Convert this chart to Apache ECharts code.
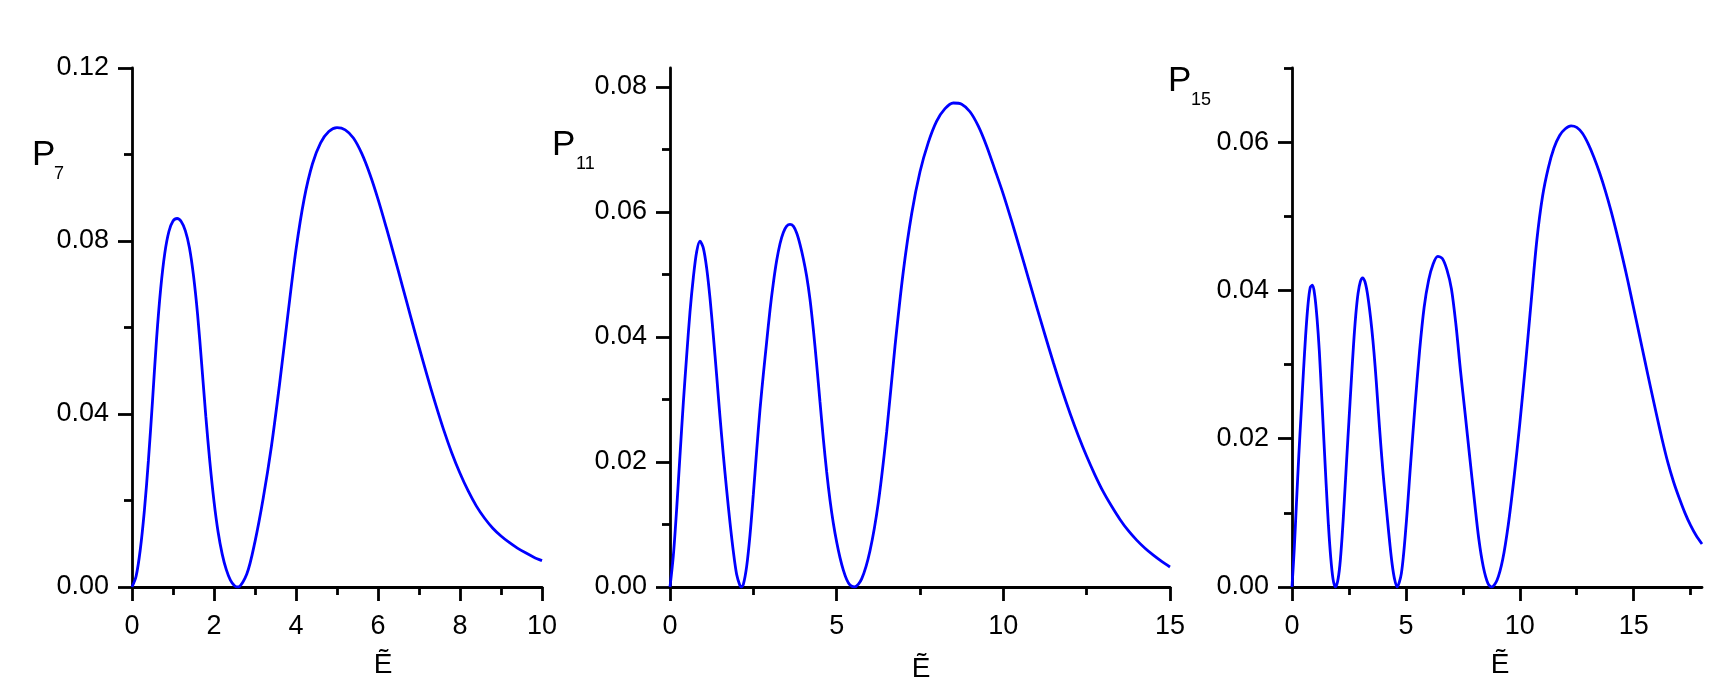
<!DOCTYPE html>
<html>
<head>
<meta charset="utf-8">
<script src="https://cdn.jsdelivr.net/npm/echarts@6/dist/echarts.min.js"></script>
<style>
html,body{margin:0;padding:0;background:#fff;}
#chart{width:1726px;height:691px;}
</style>
</head>
<body>
<div id="chart"></div>
<script>
// ---- Data ----
const e7 = [0,0.1,0.2,0.3,0.4,0.5,0.6,0.7,0.8,0.9,1.0,1.1,1.2,1.3,1.4,1.5,1.6,1.7,1.8,1.9,2.0,2.1,2.2,2.3,2.4,2.5,2.58,
  2.8,3.0,3.2,3.4,3.6,3.8,4.0,4.2,4.4,4.6,4.8,5.0,5.2,5.4,5.6,5.8,6.0,6.2,6.4,6.6,6.8,7.0,7.2,7.4,7.6,7.8,8.0,8.2,8.4,8.6,8.8,9.0,9.2,9.4,9.6,9.8,10];
const p7 = [0,0.0025,0.0085,0.0175,0.0292,0.0430,0.0575,0.0690,0.0772,0.0822,0.0846,0.0852,0.0845,0.0824,0.0785,0.0720,0.0630,0.0515,0.0395,0.0288,0.0198,0.0127,0.0076,0.0040,0.0016,0.0003,0,
  0.0030,0.0105,0.0205,0.0325,0.0470,0.0628,0.0780,0.0898,0.0978,0.1027,0.1053,0.1062,0.1057,0.1038,0.1003,0.0955,0.0897,0.0832,0.0764,0.0694,0.0624,0.0555,0.0488,0.0424,0.0364,0.0310,0.0263,0.0222,0.0187,0.0159,0.0136,0.0118,0.0103,0.0090,0.0079,0.0069,0.0061];

const e11 = [0,0.1,0.2,0.3,0.4,0.5,0.6,0.7,0.8,0.9,1.0,1.1,1.2,1.3,1.4,1.5,1.6,1.7,1.8,1.9,2.0,2.1,2.14,
  2.2,2.3,2.4,2.5,2.6,2.7,2.8,2.9,3.0,3.1,3.2,3.3,3.4,3.5,3.6,3.7,3.8,3.9,4.0,4.1,4.2,4.3,4.4,4.5,4.6,4.7,4.8,4.9,5.0,5.1,5.2,5.3,5.4,5.53,
  5.75,6.0,6.25,6.5,6.75,7.0,7.25,7.5,7.75,8.0,8.25,8.5,8.75,9.0,9.25,9.5,9.75,10.0,10.25,10.5,10.75,11.0,11.25,11.5,11.75,12.0,12.25,12.5,12.75,13.0,13.25,13.5,13.75,14.0,14.25,14.5,14.75,15.0];
const p11 = [0,0.0050,0.0125,0.0211,0.0295,0.0370,0.0440,0.0495,0.0536,0.0553,0.0542,0.0510,0.0462,0.0402,0.0338,0.0272,0.0211,0.0155,0.0103,0.0057,0.0020,0.0002,0,
  0.0004,0.0033,0.0083,0.0148,0.0218,0.0284,0.0340,0.0392,0.0443,0.0486,0.0522,0.0549,0.0567,0.0577,0.0580,0.0577,0.0566,0.0548,0.0525,0.0497,0.0460,0.0412,0.0356,0.0296,0.0237,0.0184,0.0139,0.0102,0.0072,0.0047,0.0027,0.0012,0.0003,0,
  0.0013,0.0058,0.0135,0.0248,0.0385,0.0505,0.0597,0.0664,0.0711,0.0745,0.0765,0.0774,0.0772,0.0760,0.0737,0.0705,0.0667,0.0628,0.0585,0.0540,0.0494,0.0448,0.0403,0.0359,0.0317,0.0278,0.0242,0.0209,0.0179,0.0152,0.0129,0.0108,0.0090,0.0075,0.0062,0.0051,0.0041,0.0032];

const e15 = [0,0.1,0.2,0.3,0.4,0.5,0.6,0.7,0.8,0.9,1.0,1.1,1.2,1.3,1.4,1.5,1.6,1.7,1.8,1.9,
  2.0,2.1,2.2,2.3,2.4,2.5,2.6,2.7,2.8,2.9,3.0,3.1,3.2,3.3,3.4,3.5,3.6,3.7,3.8,3.9,4.0,4.1,4.2,4.3,4.4,4.5,4.61,
  4.8,5.0,5.2,5.4,5.6,5.8,6.0,6.2,6.4,6.6,6.8,7.0,7.2,7.4,7.6,7.8,8.0,8.2,8.4,8.6,8.76,
  9.0,9.25,9.5,9.75,10.0,10.25,10.5,10.75,11.0,11.25,11.5,11.75,12.0,12.25,12.5,12.75,13.0,13.25,13.5,13.75,14.0,14.25,14.5,14.75,15.0,15.25,15.5,15.75,16.0,16.25,16.5,16.75,17.0,17.25,17.5,17.75,18.0];
const p15 = [0,0.0052,0.0116,0.0178,0.0234,0.0289,0.0340,0.0380,0.0404,0.0407,0.0393,0.0362,0.0318,0.0259,0.0198,0.0138,0.0083,0.0040,0.0011,0,
  0.0007,0.0029,0.0068,0.0118,0.0172,0.0224,0.0276,0.0326,0.0367,0.0396,0.0412,0.0417,0.0412,0.0398,0.0376,0.0349,0.0316,0.0277,0.0233,0.0191,0.0153,0.0120,0.0088,0.0057,0.0030,0.0011,0,
  0.0018,0.0080,0.0163,0.0244,0.0318,0.0377,0.0414,0.0436,0.0446,0.0443,0.0428,0.0402,0.0353,0.0291,0.0234,0.0176,0.0119,0.0065,0.0027,0.0005,0,
  0.0009,0.0037,0.0085,0.0148,0.0220,0.0300,0.0385,0.0468,0.0527,0.0565,0.0592,0.0609,0.0618,0.0622,0.0620,0.0612,0.0598,0.0580,0.0559,0.0535,0.0508,0.0478,0.0446,0.0412,0.0376,0.0340,0.0304,0.0268,0.0233,0.0199,0.0168,0.0142,0.0120,0.0100,0.0083,0.0069,0.0058];

// ---- Tick values ----
const x7Major = [0, 2, 4, 6, 8, 10];
const x7Minor = [1, 3, 5, 7, 9];
const y7Major = [0, 0.04, 0.08, 0.12];
const y7Minor = [0.02, 0.06, 0.10];
const x11Major = [0, 5, 10, 15];
const x11Minor = [2.5, 7.5, 12.5];
const y11Major = [0, 0.02, 0.04, 0.06, 0.08];
const y11Minor = [0.01, 0.03, 0.05, 0.07];
const x15Major = [0, 5, 10, 15];
const x15Minor = [2.5, 7.5, 12.5, 17.5];
const y15Major = [0, 0.02, 0.04, 0.06];
const y15Minor = [0.01, 0.03, 0.05, 0.07];

const xMax = [10, 15, 18];
const yMax = [0.12, 0.083, 0.07];
const xName = 'Ẽ';
const yNames = [['P', '7'], ['P', '11'], ['P', '15']];

// ---- Layout / style ----
const FONT = 'Liberation Sans, Arial, sans-serif';
const BLACK = '#000';
const LW = 2.8;
const grids = [
  {left: 132, top: 68, width: 410, height: 519},
  {left: 670, top: 68, width: 500, height: 519},
  {left: 1292, top: 68, width: 410, height: 519}
];
const panels = [
  {e: e7, p: p7, xM: x7Major, xm: x7Minor, yM: y7Major, ym: y7Minor},
  {e: e11, p: p11, xM: x11Major, xm: x11Minor, yM: y11Major, ym: y11Minor},
  {e: e15, p: p15, xM: x15Major, xm: x15Minor, yM: y15Major, ym: y15Minor}
];

const xAxis = [], yAxis = [], series = [];
panels.forEach((pn, i) => {
  xAxis.push({
    type: 'value', gridIndex: i, min: 0, max: xMax[i], position: 'bottom',
    axisLine: {show: true, onZero: false, lineStyle: {color: BLACK, width: LW}},
    axisTick: {show: true, customValues: pn.xM, length: 14, lineStyle: {color: BLACK, width: LW}},
    axisLabel: {show: true, customValues: pn.xM, margin: 26, color: BLACK, fontSize: 27, fontFamily: FONT,
      formatter: v => String(v)},
    splitLine: {show: false}
  });
  xAxis.push({
    type: 'value', gridIndex: i, min: 0, max: xMax[i], position: 'bottom',
    axisLine: {show: false, onZero: false},
    axisTick: {show: true, customValues: pn.xm, length: 8, lineStyle: {color: BLACK, width: LW}},
    axisLabel: {show: false},
    splitLine: {show: false}
  });
  yAxis.push({
    type: 'value', gridIndex: i, min: 0, max: yMax[i], position: 'left',
    axisLine: {show: true, onZero: false, lineStyle: {color: BLACK, width: LW}},
    axisTick: {show: true, customValues: pn.yM, length: 14, lineStyle: {color: BLACK, width: LW}},
    axisLabel: {show: true, customValues: pn.yM, margin: 23, color: BLACK, fontSize: 27, fontFamily: FONT,
      formatter: v => v.toFixed(2)},
    splitLine: {show: false}
  });
  yAxis.push({
    type: 'value', gridIndex: i, min: 0, max: yMax[i], position: 'left',
    axisLine: {show: false, onZero: false},
    axisTick: {show: true, customValues: pn.ym, length: 8, lineStyle: {color: BLACK, width: LW}},
    axisLabel: {show: false},
    splitLine: {show: false}
  });
  series.push({
    type: 'line', xAxisIndex: 2 * i, yAxisIndex: 2 * i,
    data: pn.e.map((x, k) => [x, pn.p[k]]),
    showSymbol: false, smooth: 0.3,
    lineStyle: {color: '#0000ff', width: 2.8},
    clip: true
  });
});

function txt(text, x, y, size, align) {
  return {type: 'text', x: x, y: y, silent: true,
    style: {text: text, fill: BLACK, font: size + 'px ' + FONT, fontSize: size, fontFamily: FONT,
      align: align || 'left', verticalAlign: 'middle'}};
}

const graphic = [
  txt(yNames[0][0], 32, 155, 35), txt(yNames[0][1], 54, 174, 18),
  txt(yNames[1][0], 552, 145, 35), txt(yNames[1][1], 576, 164, 18),
  txt(yNames[2][0], 1168, 81, 35), txt(yNames[2][1], 1191, 100, 18),
  txt(xName, 383, 665, 28, 'center'),
  txt(xName, 921, 669, 28, 'center'),
  txt(xName, 1500, 665, 28, 'center')
];

const chart = echarts.init(document.getElementById('chart'), null, {renderer: 'canvas'});
chart.setOption({
  animation: false,
  backgroundColor: '#fff',
  grid: grids,
  xAxis: xAxis,
  yAxis: yAxis,
  series: series,
  graphic: graphic
});
</script>
</body>
</html>
